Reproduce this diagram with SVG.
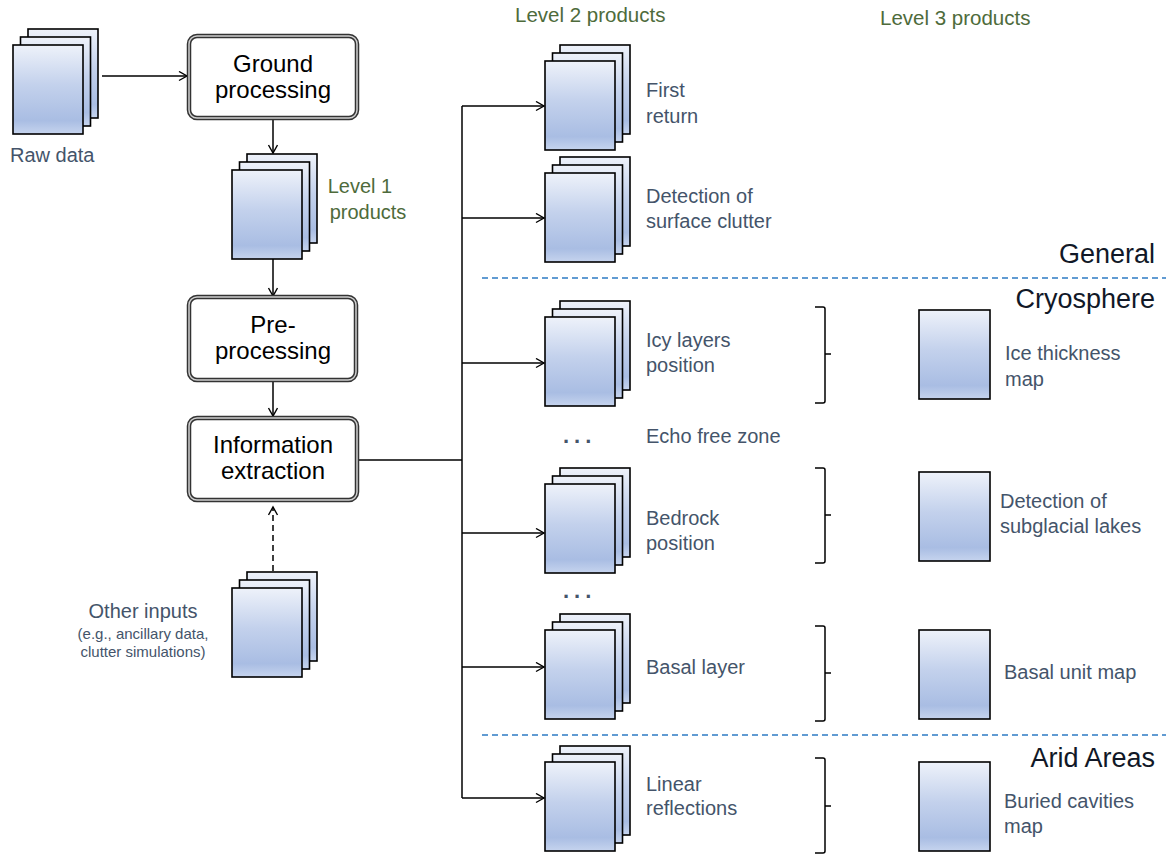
<svg xmlns="http://www.w3.org/2000/svg" xmlns:xlink="http://www.w3.org/1999/xlink" width="1166" height="855" viewBox="0 0 1166 855">
<defs>
<linearGradient id="g" x1="0" y1="0" x2="0" y2="1">
<stop offset="0" stop-color="#eef2fa"/>
<stop offset="0.45" stop-color="#c3d1ec"/>
<stop offset="0.85" stop-color="#a9bde3"/>
<stop offset="1" stop-color="#c6d4ee"/>
</linearGradient>
<marker id="ah" markerUnits="userSpaceOnUse" markerWidth="12" markerHeight="12" refX="9" refY="5" orient="auto">
<path d="M1,0.5 L9,5 L1,9.5" fill="none" stroke="#000" stroke-width="1.4"/>
</marker>
<g id="stack">
<rect x="15" y="-16" width="70" height="89" fill="url(#g)" stroke="#000" stroke-width="1.6"/>
<rect x="7.5" y="-8" width="70" height="89" fill="url(#g)" stroke="#000" stroke-width="1.6"/>
<rect x="0" y="0" width="70" height="89" fill="url(#g)" stroke="#000" stroke-width="1.6"/>
</g>
<rect id="sheet" x="0" y="0" width="71" height="89" fill="url(#g)" stroke="#000" stroke-width="1.6"/>
</defs>
<style>
.box{fill:#fff;stroke:#333;stroke-width:4.5}
.boxin{fill:none;stroke:#cfcfcf;stroke-width:1.5}
.bt{font-family:"Liberation Sans",Arial,sans-serif;font-size:24px;fill:#000;text-anchor:middle}
.lb{font-family:"Liberation Sans",Arial,sans-serif;font-size:20px;fill:#44546a}
.sm{font-family:"Liberation Sans",Arial,sans-serif;font-size:15px;fill:#44546a;text-anchor:middle}
.hd{font-family:"Liberation Sans",Arial,sans-serif;font-size:20.5px;fill:#4e6b3b}
.sec{font-family:"Liberation Sans",Arial,sans-serif;font-size:27px;fill:#111827;text-anchor:end}
.ln{fill:none;stroke:#000;stroke-width:1.5}
.dash{fill:none;stroke:#2e7bc4;stroke-width:1.6;stroke-dasharray:6 4}
.br{fill:none;stroke:#000;stroke-width:1.5}
.dots{font-family:"Liberation Sans",Arial,sans-serif;font-size:22px;font-weight:bold;fill:#44546a;letter-spacing:5px}
</style>
<rect width="1166" height="855" fill="#fff"/>

<g id="headings">
<text class="hd" x="515" y="22">Level 2 products</text>
<text class="hd" x="880" y="25">Level 3 products</text>
</g>

<g id="sections">
<line class="dash" x1="482" y1="278" x2="1166" y2="278"/>
<line class="dash" x1="482" y1="735" x2="1166" y2="735"/>
<text class="sec" x="1155" y="263">General</text>
<text class="sec" x="1155" y="308">Cryosphere</text>
<text class="sec" x="1155" y="767">Arid Areas</text>
</g>

<g id="connectors">
<line class="ln" x1="102" y1="76" x2="187" y2="76" marker-end="url(#ah)"/>
<line class="ln" x1="273" y1="118" x2="273" y2="153" marker-end="url(#ah)"/>
<line class="ln" x1="273" y1="259" x2="273" y2="296" marker-end="url(#ah)"/>
<line class="ln" x1="273" y1="380" x2="273" y2="416" marker-end="url(#ah)"/>
<line class="ln" x1="273" y1="571" x2="273" y2="507" stroke-dasharray="6 4" marker-end="url(#ah)"/>
<line class="ln" x1="357" y1="460" x2="462" y2="460"/>
<line class="ln" x1="462" y1="106" x2="462" y2="798"/>
<line class="ln" x1="462" y1="106" x2="544" y2="106" marker-end="url(#ah)"/>
<line class="ln" x1="462" y1="218" x2="544" y2="218" marker-end="url(#ah)"/>
<line class="ln" x1="462" y1="363" x2="544" y2="363" marker-end="url(#ah)"/>
<line class="ln" x1="462" y1="533" x2="544" y2="533" marker-end="url(#ah)"/>
<line class="ln" x1="462" y1="667" x2="544" y2="667" marker-end="url(#ah)"/>
<line class="ln" x1="462" y1="798" x2="544" y2="798" marker-end="url(#ah)"/>
</g>

<g id="raw-data">
<use href="#stack" x="13" y="45"/>
<text class="lb" x="10" y="162">Raw data</text>
</g>

<g id="ground-processing">
<rect class="box" x="189" y="36" width="168" height="82" rx="8"/>
<rect class="boxin" x="189" y="36" width="168" height="82" rx="8"/>
<text class="bt" x="273" y="72">Ground</text>
<text class="bt" x="273" y="98">processing</text>
</g>

<g id="level1">
<use href="#stack" x="232" y="170"/>
<text x="360" y="193" font-family="Liberation Sans,Arial,sans-serif" font-size="20" fill="#4e6b3b" text-anchor="middle">Level 1</text>
<text x="368" y="219" font-family="Liberation Sans,Arial,sans-serif" font-size="20" fill="#4e6b3b" text-anchor="middle">products</text>
</g>

<g id="pre-processing">
<rect class="box" x="189" y="297" width="167" height="83" rx="8"/>
<rect class="boxin" x="189" y="297" width="167" height="83" rx="8"/>
<text class="bt" x="273" y="333">Pre-</text>
<text class="bt" x="273" y="359">processing</text>
</g>

<g id="information-extraction">
<rect class="box" x="189" y="418" width="168" height="82" rx="8"/>
<rect class="boxin" x="189" y="418" width="168" height="82" rx="8"/>
<text class="bt" x="273" y="453">Information</text>
<text class="bt" x="273" y="479">extraction</text>
</g>

<g id="other-inputs">
<use href="#stack" x="232" y="588"/>
<text class="lb" x="143" y="618" text-anchor="middle">Other inputs</text>
<text class="sm" x="143" y="639">(e.g., ancillary data,</text>
<text class="sm" x="143" y="657">clutter simulations)</text>
</g>

<g id="first-return">
<use href="#stack" x="545" y="61"/>
<text class="lb" x="646" y="97">First</text>
<text class="lb" x="646" y="123">return</text>
</g>

<g id="surface-clutter">
<use href="#stack" x="545" y="173"/>
<text class="lb" x="646" y="203">Detection of</text>
<text class="lb" x="646" y="228">surface clutter</text>
</g>

<g id="icy-layers">
<use href="#stack" x="545" y="317"/>
<text class="lb" x="646" y="347">Icy layers</text>
<text class="lb" x="646" y="372">position</text>
<path class="br" d="M815,307 L823,307 Q825,307 825,309 L825,401 Q825,403 823,403 L815,403 M825,354 L831,354"/>
</g>

<g id="ice-thickness">
<use href="#sheet" x="919" y="310"/>
<text class="lb" x="1005" y="360">Ice thickness</text>
<text class="lb" x="1005" y="386">map</text>
</g>

<g id="echo-free">
<text class="dots" x="563" y="443">...</text>
<text class="lb" x="646" y="443">Echo free zone</text>
</g>

<g id="bedrock">
<use href="#stack" x="545" y="484"/>
<text class="lb" x="646" y="525">Bedrock</text>
<text class="lb" x="646" y="550">position</text>
<path class="br" d="M815,468 L823,468 Q825,468 825,470 L825,561 Q825,563 823,563 L815,563 M825,515 L831,515"/>
</g>

<g id="subglacial-lakes">
<use href="#sheet" x="919" y="472"/>
<text class="lb" x="1000" y="508">Detection of</text>
<text class="lb" x="1000" y="533">subglacial lakes</text>
</g>

<g id="dots2">
<text class="dots" x="563" y="598">...</text>
</g>

<g id="basal-layer">
<use href="#stack" x="545" y="630"/>
<text class="lb" x="646" y="674">Basal layer</text>
<path class="br" d="M815,626 L823,626 Q825,626 825,628 L825,719 Q825,721 823,721 L815,721 M825,673 L831,673"/>
</g>

<g id="basal-unit-map">
<use href="#sheet" x="919" y="630"/>
<text class="lb" x="1004" y="679">Basal unit map</text>
</g>

<g id="linear-reflections">
<use href="#stack" x="545" y="762"/>
<text class="lb" x="646" y="791">Linear</text>
<text class="lb" x="646" y="815">reflections</text>
<path class="br" d="M815,758 L823,758 Q825,758 825,760 L825,851 Q825,853 823,853 L815,853 M825,806 L831,806"/>
</g>

<g id="buried-cavities">
<use href="#sheet" x="919" y="762"/>
<text class="lb" x="1004" y="808">Buried cavities</text>
<text class="lb" x="1004" y="833">map</text>
</g>
</svg>
